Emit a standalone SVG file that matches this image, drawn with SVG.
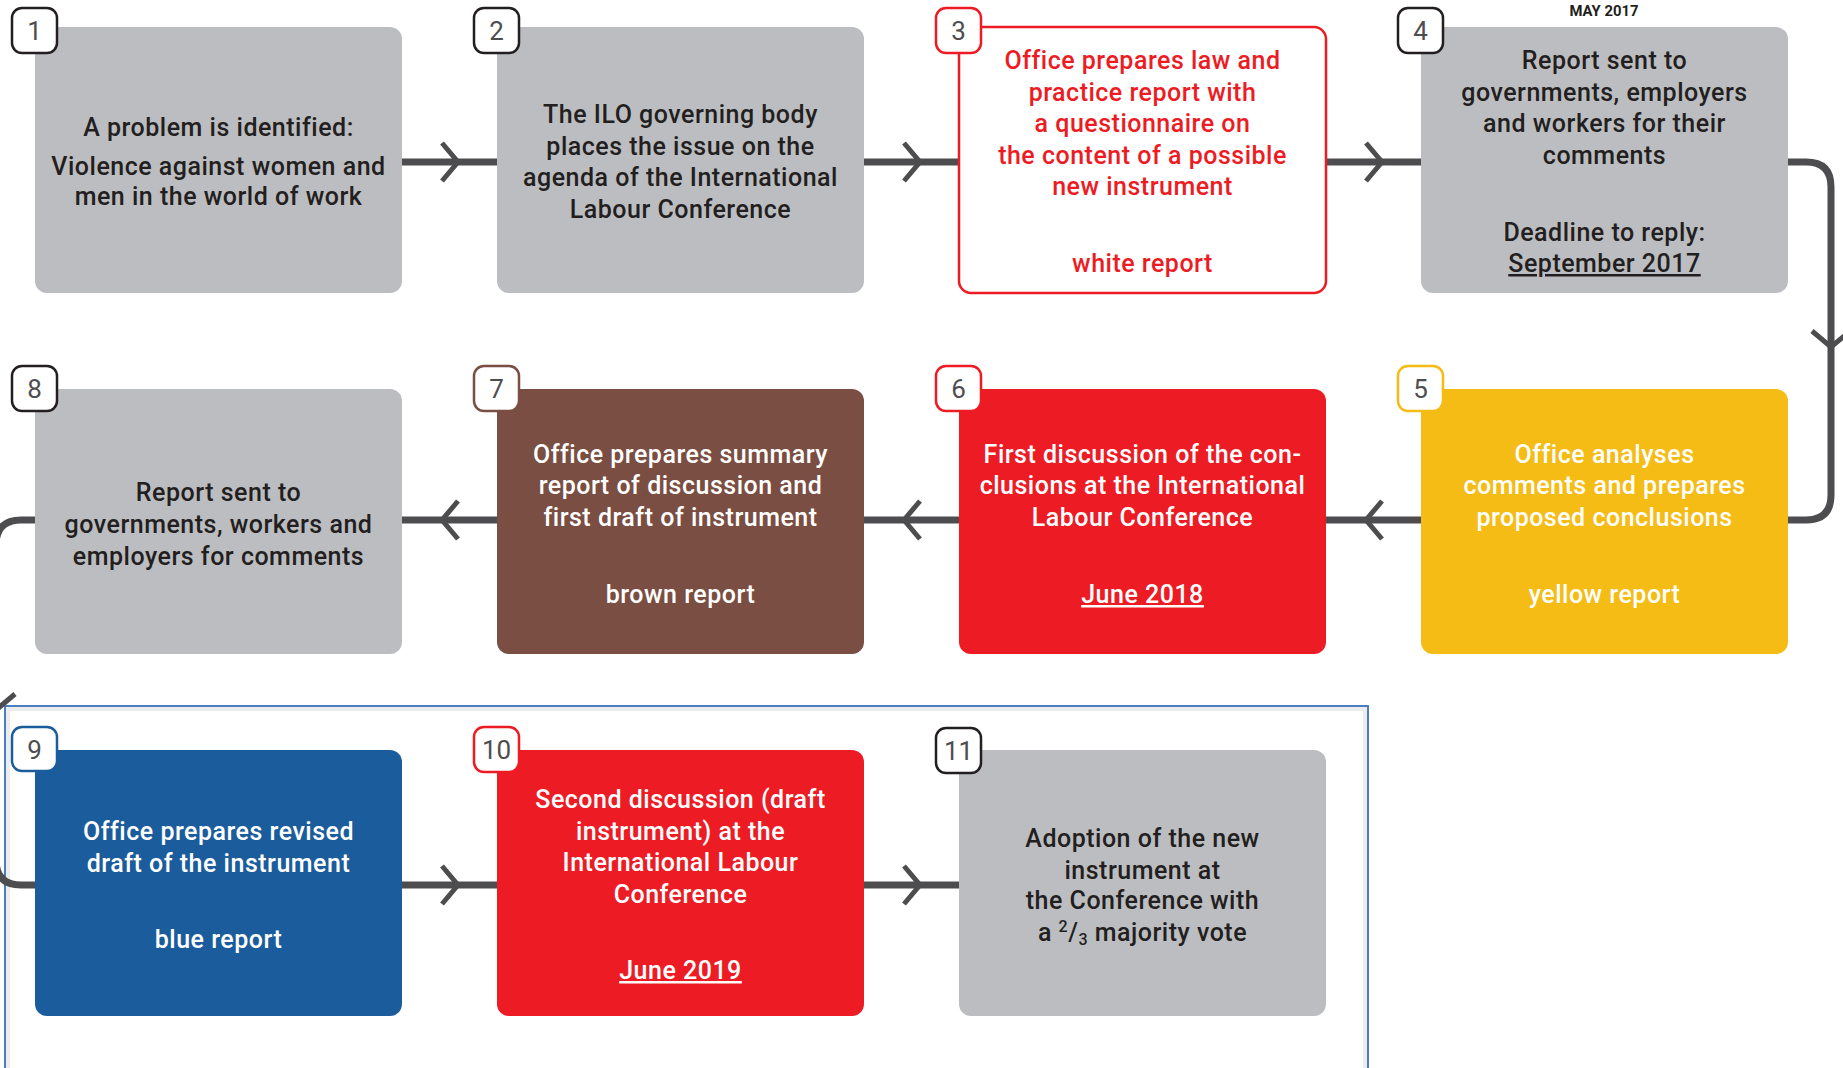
<svg xmlns="http://www.w3.org/2000/svg" width="1843" height="1068" viewBox="0 0 1843 1068">
<style>
.box{stroke:none}
.gray{fill:#bcbdc0}
.t{font-family:Roboto,"Liberation Sans",sans-serif;font-size:25px;font-weight:500;letter-spacing:0.5px;text-anchor:middle}
.dk{fill:#231f20}
.wh{fill:#ffffff}
.rd{fill:#ed1c24}
.badge{fill:#ffffff;stroke-width:2.5}
.num{font-family:Roboto,"Liberation Sans",sans-serif;font-size:26px;fill:#4d4d4f;text-anchor:middle}
.conn{fill:none;stroke:#4d4d4f;stroke-width:7}
.chev{fill:none;stroke:#4d4d4f;stroke-width:5;stroke-linejoin:miter}
.u{text-decoration:underline}
</style>

<g id="frame">
<rect x="8" y="709" width="1357" height="400" fill="none" stroke="#ececec" stroke-width="4"/>
<rect x="5" y="706" width="1363" height="400" fill="none" stroke="#4a7ebf" stroke-width="2"/>
</g>

<g id="connectors">
<path class="conn" d="M402,162 H497 M864,162 H959 M1326,162 H1421"/>
<path class="chev" d="M442,143 L458,162 L442,181 M904,143 L920,162 L904,181 M1366,143 L1382,162 L1366,181"/>
<path class="conn" d="M1788,162 H1806 Q1831,162 1831,187 V495 Q1831,520 1806,520 H1788"/>
<path class="chev" d="M1812,331 L1831,347 L1850,331"/>
<path class="conn" d="M402,520 H497 M864,520 H959 M1326,520 H1421"/>
<path class="chev" d="M458,501 L442,520 L458,539 M920,501 L904,520 L920,539 M1382,501 L1366,520 L1382,539"/>
<path class="conn" d="M35,520 H21 Q-4,520 -4,545 V860 Q-4,885 21,885 H35"/>
<path class="chev" d="M-23,694 L-4,710 L15,694"/>
<path class="conn" d="M402,885 H497 M864,885 H959"/>
<path class="chev" d="M442,866 L458,885 L442,904 M904,866 L920,885 L904,904"/>
</g>

<g id="node1">
<rect class="box gray" x="35" y="27" width="367" height="266" rx="12"/>
<rect class="badge" x="12" y="8" width="45" height="45" rx="10" stroke="#231f20"/>
<text class="num" x="34.5" y="40">1</text>
<text class="t dk" x="218.5" y="136">A problem is identified:</text>
<text class="t dk" x="218.5" y="175">Violence against women and</text>
<text class="t dk" x="218.5" y="205">men in the world of work</text>
</g>

<g id="node2">
<rect class="box gray" x="497" y="27" width="367" height="266" rx="12"/>
<rect class="badge" x="474" y="8" width="45" height="45" rx="10" stroke="#231f20"/>
<text class="num" x="496.5" y="40">2</text>
<text class="t dk" x="680.5" y="123">The ILO governing body</text>
<text class="t dk" x="680.5" y="155">places the issue on the</text>
<text class="t dk" x="680.5" y="186">agenda of the International</text>
<text class="t dk" x="680.5" y="218">Labour Conference</text>
</g>

<g id="node3">
<rect x="959" y="27" width="367" height="266" rx="12" fill="#ffffff" stroke="#ed1c24" stroke-width="2.5"/>
<rect class="badge" x="936" y="8" width="45" height="45" rx="10" stroke="#ed1c24"/>
<text class="num" x="958.5" y="40">3</text>
<text class="t rd" x="1142.5" y="69">Office prepares law and</text>
<text class="t rd" x="1142.5" y="101">practice report with</text>
<text class="t rd" x="1142.5" y="132">a questionnaire on</text>
<text class="t rd" x="1142.5" y="164">the content of a possible</text>
<text class="t rd" x="1142.5" y="195">new instrument</text>
<text class="t rd" x="1142.5" y="272">white report</text>
</g>

<g id="node4">
<text x="1604" y="16" font-family="Roboto,'Liberation Sans',sans-serif" font-size="15" font-weight="bold" fill="#231f20" text-anchor="middle" textLength="69" lengthAdjust="spacingAndGlyphs">MAY 2017</text>
<rect class="box gray" x="1421" y="27" width="367" height="266" rx="12"/>
<rect class="badge" x="1398" y="8" width="45" height="45" rx="10" stroke="#231f20"/>
<text class="num" x="1420.5" y="40">4</text>
<text class="t dk" x="1604.5" y="69">Report sent to</text>
<text class="t dk" x="1604.5" y="101">governments, employers</text>
<text class="t dk" x="1604.5" y="132">and workers for their</text>
<text class="t dk" x="1604.5" y="164">comments</text>
<text class="t dk" x="1604.5" y="241">Deadline to reply:</text>
<text class="t dk u" x="1604.5" y="272">September 2017</text>
</g>

<g id="node5">
<rect class="box" x="1421" y="389" width="367" height="265" rx="12" fill="#f4bc15"/>
<rect class="badge" x="1398" y="366" width="45" height="45" rx="10" stroke="#f4bc15"/>
<text class="num" x="1420.5" y="398">5</text>
<text class="t wh" x="1604.5" y="463">Office analyses</text>
<text class="t wh" x="1604.5" y="494">comments and prepares</text>
<text class="t wh" x="1604.5" y="526">proposed conclusions</text>
<text class="t wh" x="1604.5" y="603">yellow report</text>
</g>

<g id="node6">
<rect class="box" x="959" y="389" width="367" height="265" rx="12" fill="#ed1c24"/>
<rect class="badge" x="936" y="366" width="45" height="45" rx="10" stroke="#ed1c24"/>
<text class="num" x="958.5" y="398">6</text>
<text class="t wh" x="1142.5" y="463">First discussion of the con-</text>
<text class="t wh" x="1142.5" y="494">clusions at the International</text>
<text class="t wh" x="1142.5" y="526">Labour Conference</text>
<text class="t wh u" x="1142.5" y="603">June 2018</text>
</g>

<g id="node7">
<rect class="box" x="497" y="389" width="367" height="265" rx="12" fill="#7a4e42"/>
<rect class="badge" x="474" y="366" width="45" height="45" rx="10" stroke="#7a4e42"/>
<text class="num" x="496.5" y="398">7</text>
<text class="t wh" x="680.5" y="463">Office prepares summary</text>
<text class="t wh" x="680.5" y="494">report of discussion and</text>
<text class="t wh" x="680.5" y="526">first draft of instrument</text>
<text class="t wh" x="680.5" y="603">brown report</text>
</g>

<g id="node8">
<rect class="box gray" x="35" y="389" width="367" height="265" rx="12"/>
<rect class="badge" x="12" y="366" width="45" height="45" rx="10" stroke="#231f20"/>
<text class="num" x="34.5" y="398">8</text>
<text class="t dk" x="218.5" y="501">Report sent to</text>
<text class="t dk" x="218.5" y="533">governments, workers and</text>
<text class="t dk" x="218.5" y="565">employers for comments</text>
</g>

<g id="node9">
<rect class="box" x="35" y="750" width="367" height="266" rx="12" fill="#1b5c9c"/>
<rect class="badge" x="12" y="727" width="45" height="44" rx="10" stroke="#1b5c9c"/>
<text class="num" x="34.5" y="759">9</text>
<text class="t wh" x="218.5" y="840">Office prepares revised</text>
<text class="t wh" x="218.5" y="872">draft of the instrument</text>
<text class="t wh" x="218.5" y="948">blue report</text>
</g>

<g id="node10">
<rect class="box" x="497" y="750" width="367" height="266" rx="12" fill="#ed1c24"/>
<rect class="badge" x="474" y="727" width="45" height="45" rx="10" stroke="#ed1c24"/>
<text class="num" x="496.5" y="759">10</text>
<text class="t wh" x="680.5" y="808">Second discussion (draft</text>
<text class="t wh" x="680.5" y="840">instrument) at the</text>
<text class="t wh" x="680.5" y="871">International Labour</text>
<text class="t wh" x="680.5" y="903">Conference</text>
<text class="t wh u" x="680.5" y="979">June 2019</text>
</g>

<g id="node11">
<rect class="box gray" x="959" y="750" width="367" height="266" rx="12"/>
<rect class="badge" x="936" y="728" width="45" height="45" rx="10" stroke="#231f20"/>
<text class="num" x="958.5" y="760">11</text>
<text class="t dk" x="1142.5" y="847">Adoption of the new</text>
<text class="t dk" x="1142.5" y="879">instrument at</text>
<text class="t dk" x="1142.5" y="909">the Conference with</text>
<text class="t dk" x="1142.5" y="941">a <tspan font-size="16" dy="-9">2</tspan><tspan dy="9">/</tspan><tspan font-size="16" dy="4">3</tspan><tspan dy="-4"> majority vote</tspan></text>
</g>
</svg>
